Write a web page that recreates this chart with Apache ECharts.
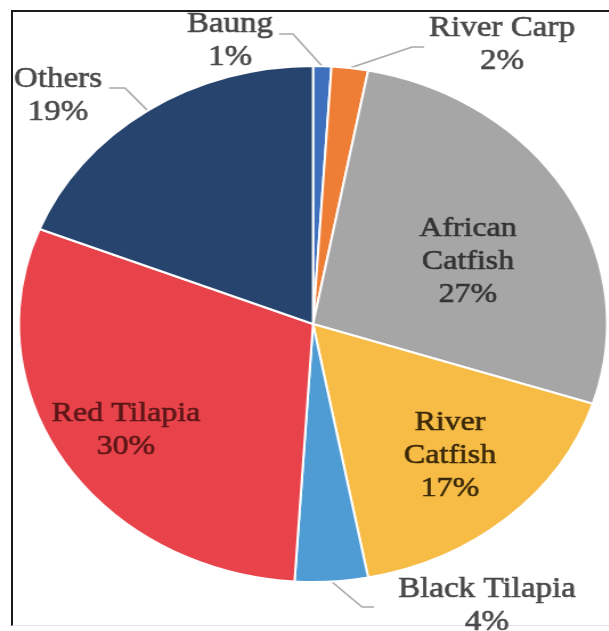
<!DOCTYPE html>
<html>
<head>
<meta charset="utf-8">
<script src="https://cdn.jsdelivr.net/npm/echarts@6/dist/echarts.min.js"></script>
<style>
  html, body { margin: 0; padding: 0; background: #fff; overflow: hidden; }
  #frame {
    position: absolute; left: 11px; top: 10px; width: 660px; height: 616px;
    border-left: 2px solid #1c1c1c; border-top: 2px solid #1c1c1c;
    border-bottom: 1px solid #e4e4e4; box-sizing: border-box;
  }
  /* the figure is drawn in a narrower box and widened, giving the oval pie */
  #chart {
    position: absolute; left: 0; top: 0; width: 534px; height: 631px;
    transform: scaleX(1.14); transform-origin: 0 0;
  }
</style>
</head>
<body>
<div id="frame"></div>
<div id="chart"></div>
<script>
// Share of fish species (%)
const categories = ['Baung', 'River Carp', 'African Catfish', 'River Catfish', 'Black Tilapia', 'Red Tilapia', 'Others'];
const labelText  = ['Baung', 'River Carp', 'African\nCatfish', 'River\nCatfish', 'Black Tilapia', 'Red Tilapia', 'Others'];
const shares     = [1, 2, 27, 17, 4, 30, 19];
const colors     = ['#3f70bd', '#ee7d35', '#a6a6a6', '#f6bc45', '#4f9bd3', '#e8434a', '#27446f'];
const insideSet  = ['African Catfish', 'River Catfish', 'Red Tilapia'];
const textColors = ['#484848', '#484848', '#333333', '#3a2809', '#484848', '#5a1616', '#484848'];

const SX = 1.14;           // horizontal stretch of the figure
const CX = 313, CY = 324, RY = 258;

// label anchor (page px) and leader-line bend / end points
const labelSpots = [
  { x: 230, y: 41,  line: [[293, 34], [279, 34]] },
  { x: 502, y: 45,  line: [[412, 47], [424, 47]] },
  { x: 468, y: 262 },
  { x: 450, y: 456 },
  { x: 487, y: 606, line: [[362, 607], [374, 607]] },
  { x: 126, y: 430 },
  { x: 58,  y: 96,  line: [[125, 88], [109, 88]] }
];

const chart = echarts.init(document.getElementById('chart'), null, { renderer: 'canvas' });

const data = categories.map((name, i) => {
  const inside = insideSet.includes(name);
  return {
    name: name,
    value: shares[i],
    itemStyle: { color: colors[i] },
    label: {
      position: inside ? 'inside' : 'outside',
      fontSize: inside ? 28 : 29,
      color: textColors[i],
      textBorderColor: textColors[i]
    },
    labelLine: { show: !inside }
  };
});

chart.setOption({
  backgroundColor: 'transparent',
  animation: false,
  series: [{
    type: 'pie',
    center: [CX / SX, CY],
    radius: RY,
    startAngle: 90,
    clockwise: true,
    avoidLabelOverlap: false,
    itemStyle: { borderColor: '#ffffff', borderWidth: 2 },
    label: {
      show: true,
      fontFamily: '"Liberation Serif", "Times New Roman", serif',
      fontSize: 28,
      lineHeight: 33,
      align: 'center',
      textBorderWidth: 0.6,
      formatter: p => labelText[p.dataIndex] + '\n' + Math.round(p.percent) + '%'
    },
    labelLine: {
      show: true,
      lineStyle: { color: '#a8a8a8', width: 1.6 }
    },
    labelLayout: function (p) {
      const s = labelSpots[p.dataIndex];
      const out = { x: s.x / SX, y: s.y, align: 'center', verticalAlign: 'middle' };
      if (s.line && p.labelLinePoints) {
        out.labelLinePoints = [
          p.labelLinePoints[0],
          [s.line[0][0] / SX, s.line[0][1]],
          [s.line[1][0] / SX, s.line[1][1]]
        ];
      }
      return out;
    },
    data: data
  }]
});
</script>
</body>
</html>
